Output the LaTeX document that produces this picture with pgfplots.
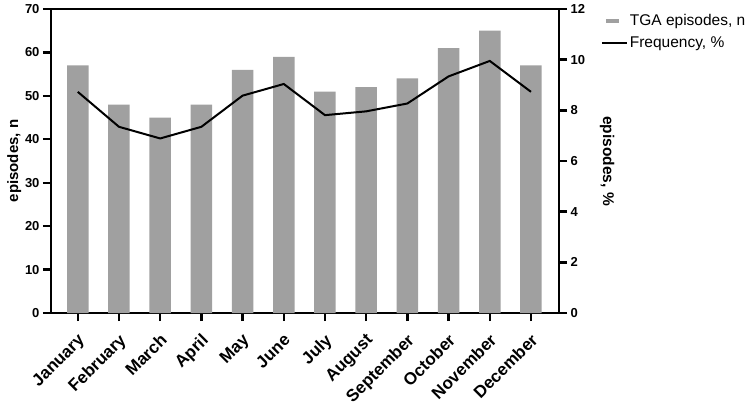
\documentclass[border=0pt]{standalone}
\usepackage{pgfplots}
\pgfplotsset{compat=1.18}
\usepackage{fontspec}
\setmainfont{Liberation Sans}
\definecolor{bargray}{HTML}{A0A0A0}
\begin{document}
\begin{tikzpicture}
\begin{axis}[
  at={(0,0)}, anchor=south west,
  scale only axis, width=508pt, height=304pt,
  xmin=-0.65, xmax=11.68, ymin=0, ymax=70,
  xtick={0,...,11},
  xticklabels={January,February,March,April,May,June,July,August,September,October,November,December},
  ytick={0,10,...,70},
  axis line style={line width=2.4pt},
  tick style={line width=2.4pt, black},
  tick align=outside, xtick pos=bottom, ytick pos=left,
  major tick length=8pt,
  x tick label style={xshift=-1pt, yshift=-10pt, rotate=45, anchor=north east, font=\bfseries\fontsize{17}{19}\selectfont, inner sep=1pt},
  y tick label style={font=\bfseries\fontsize{13}{15}\selectfont},
  /pgf/number format/assume math mode=true,
  ylabel={episodes, n},
  ylabel shift=-3pt,
  ylabel style={font=\bfseries\fontsize{15}{17}\selectfont},
]
\addplot[ybar, bar width=21.5pt, fill=bargray, draw=none] coordinates {
(0,57) (1,48) (2,45) (3,48) (4,56) (5,59) (6,51) (7,52) (8,54) (9,61) (10,65) (11,57)};
\end{axis}
\begin{axis}[
  at={(0,0)}, anchor=south west,
  scale only axis, width=508pt, height=304pt,
  xmin=-0.65, xmax=11.68, ymin=0, ymax=12,
  axis y line*=right, axis x line=none,
  ytick={0,2,...,12},
  axis line style={line width=2.4pt},
  tick style={line width=2.4pt, black},
  tick align=outside,
  major tick length=8pt,
  y tick label style={font=\bfseries\fontsize{13}{15}\selectfont},
  /pgf/number format/assume math mode=true,
  ylabel={episodes, \%},
  ylabel shift=8pt,
  ylabel style={rotate=180, font=\bfseries\fontsize{15.5}{17}\selectfont},
  legend style={at={(1.082,0.99)}, anchor=north west, draw=none, fill=none,
    font=\fontsize{15.5}{18}\selectfont, row sep=6pt, inner sep=0pt,
    nodes={inner sep=2pt}},
  legend cell align=left,
]
\addlegendimage{legend image code/.code={\draw[bargray, line width=4pt] (4pt,0pt) -- (17pt,0pt);}}
\addlegendentry{TGA episodes, n}
\addplot[black, line width=2pt, legend image code/.code={\draw[black, line width=2pt] (0pt,0pt) -- (25pt,0pt);}] coordinates {
(0,8.73) (1,7.35) (2,6.89) (3,7.35) (4,8.58) (5,9.04) (6,7.81) (7,7.96) (8,8.27) (9,9.34) (10,9.95) (11,8.73)};
\addlegendentry{Frequency, \%}
\end{axis}
\pgfresetboundingbox
\path[use as bounding box] (-51pt,-97pt) rectangle (698pt,313pt);
\end{tikzpicture}
\end{document}
